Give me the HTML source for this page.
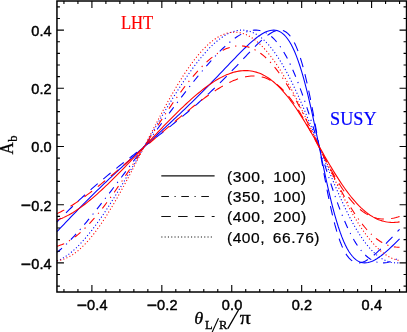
<!DOCTYPE html>
<html><head><meta charset="utf-8"><title>Ab plot</title>
<style>html,body{margin:0;padding:0;background:#fff;overflow:hidden}svg{display:block;will-change:transform;opacity:0.999}</style>
</head><body>
<svg width="407" height="332" viewBox="0 0 407 332">
<rect width="407" height="332" fill="#fff"/>
<path d="M56.95 231.59 L58.70 229.76 L60.45 227.93 L62.19 226.10 L63.94 224.27 L65.69 222.44 L67.44 220.61 L69.19 218.78 L70.93 216.96 L72.68 215.14 L74.43 213.33 L76.18 211.53 L77.93 209.73 L79.67 207.94 L81.42 206.16 L83.17 204.38 L84.92 202.62 L86.67 200.86 L88.41 199.11 L90.16 197.37 L91.91 195.63 L93.66 193.91 L95.41 192.19 L97.15 190.48 L98.90 188.78 L100.65 187.09 L102.40 185.40 L104.15 183.72 L105.89 182.05 L107.64 180.38 L109.39 178.73 L111.14 177.07 L112.89 175.43 L114.63 173.79 L116.38 172.15 L118.13 170.52 L119.88 168.90 L121.63 167.28 L123.37 165.67 L125.12 164.05 L126.87 162.45 L128.62 160.84 L130.37 159.24 L132.11 157.64 L133.86 156.05 L135.61 154.45 L137.36 152.86 L139.11 151.27 L140.85 149.68 L142.60 148.09 L144.35 146.50 L146.10 144.91 L147.85 143.32 L149.59 141.73 L151.34 140.14 L153.09 138.55 L154.84 136.95 L156.59 135.36 L158.33 133.76 L160.08 132.16 L161.83 130.55 L163.58 128.95 L165.33 127.33 L167.07 125.72 L168.82 124.10 L170.57 122.48 L172.32 120.85 L174.07 119.21 L175.81 117.57 L177.56 115.93 L179.31 114.27 L181.06 112.62 L182.81 110.95 L184.55 109.28 L186.30 107.60 L188.05 105.91 L189.80 104.22 L191.55 102.52 L193.29 100.81 L195.04 99.09 L196.79 97.37 L198.54 95.63 L200.29 93.89 L202.03 92.14 L203.78 90.38 L205.53 88.62 L207.28 86.84 L209.03 85.06 L210.77 83.27 L212.52 81.47 L214.27 79.67 L216.02 77.86 L217.77 76.04 L219.51 74.22 L221.26 72.39 L223.01 70.56 L224.76 68.73 L226.51 66.90 L228.25 65.07 L230.00 63.24 L231.75 61.41 L233.50 59.59 L235.25 57.78 L236.99 55.98 L238.74 54.19 L240.49 52.42 L242.24 50.67 L243.99 48.94 L245.73 47.24 L247.48 45.58 L249.23 43.96 L250.98 42.38 L252.73 40.85 L254.47 39.38 L256.22 37.99 L257.97 36.66 L259.72 35.43 L261.47 34.29 L263.21 33.26 L264.96 32.35 L266.71 31.57 L268.46 30.94 L270.21 30.48 L271.95 30.20 L273.70 30.11 L275.45 30.25 L277.20 30.61 L278.95 31.24 L280.69 32.14 L282.44 33.34 L284.19 34.86 L285.94 36.73 L287.69 38.95 L289.43 41.55 L291.18 44.56 L292.93 47.97 L294.68 51.82 L296.43 56.10 L298.17 60.83 L299.92 66.00 L301.67 71.61 L303.42 77.65 L305.17 84.10 L306.91 90.95 L308.66 98.15 L310.41 105.68 L312.16 113.49 L313.91 121.53 L315.65 129.75 L317.40 138.10 L319.15 146.50 L320.90 154.90 L322.65 163.25 L324.39 171.47 L326.14 179.51 L327.89 187.32 L329.64 194.85 L331.39 202.05 L333.13 208.90 L334.88 215.35 L336.63 221.39 L338.38 227.00 L340.13 232.17 L341.87 236.90 L343.62 241.18 L345.37 245.03 L347.12 248.44 L348.87 251.45 L350.61 254.05 L352.36 256.27 L354.11 258.14 L355.86 259.66 L357.61 260.86 L359.35 261.76 L361.10 262.39 L362.85 262.75 L364.60 262.89 L366.35 262.80 L368.09 262.52 L369.84 262.06 L371.59 261.43 L373.34 260.65 L375.09 259.74 L376.83 258.71 L378.58 257.57 L380.33 256.34 L382.08 255.01 L383.83 253.62 L385.57 252.15 L387.32 250.62 L389.07 249.04 L390.82 247.42 L392.57 245.76 L394.31 244.06 L396.06 242.33 L397.81 240.58 L399.56 238.81" fill="none" stroke="#0000ff" stroke-width="1.08"/>
<path d="M56.95 252.42 L58.70 251.01 L60.45 249.53 L62.19 247.99 L63.94 246.39 L65.69 244.74 L67.44 243.04 L69.19 241.29 L70.93 239.50 L72.68 237.67 L74.43 235.79 L76.18 233.88 L77.93 231.94 L79.67 229.96 L81.42 227.95 L83.17 225.92 L84.92 223.86 L86.67 221.78 L88.41 219.67 L90.16 217.54 L91.91 215.39 L93.66 213.23 L95.41 211.05 L97.15 208.85 L98.90 206.64 L100.65 204.41 L102.40 202.17 L104.15 199.92 L105.89 197.66 L107.64 195.39 L109.39 193.11 L111.14 190.83 L112.89 188.53 L114.63 186.23 L116.38 183.92 L118.13 181.61 L119.88 179.29 L121.63 176.97 L123.37 174.64 L125.12 172.31 L126.87 169.97 L128.62 167.63 L130.37 165.29 L132.11 162.95 L133.86 160.60 L135.61 158.25 L137.36 155.90 L139.11 153.55 L140.85 151.20 L142.60 148.85 L144.35 146.50 L146.10 144.15 L147.85 141.80 L149.59 139.45 L151.34 137.10 L153.09 134.75 L154.84 132.40 L156.59 130.05 L158.33 127.71 L160.08 125.37 L161.83 123.03 L163.58 120.69 L165.33 118.36 L167.07 116.03 L168.82 113.71 L170.57 111.39 L172.32 109.08 L174.07 106.77 L175.81 104.47 L177.56 102.17 L179.31 99.89 L181.06 97.61 L182.81 95.34 L184.55 93.08 L186.30 90.83 L188.05 88.59 L189.80 86.36 L191.55 84.15 L193.29 81.95 L195.04 79.77 L196.79 77.61 L198.54 75.46 L200.29 73.33 L202.03 71.22 L203.78 69.14 L205.53 67.08 L207.28 65.05 L209.03 63.04 L210.77 61.06 L212.52 59.12 L214.27 57.21 L216.02 55.33 L217.77 53.50 L219.51 51.71 L221.26 49.96 L223.01 48.26 L224.76 46.61 L226.51 45.01 L228.25 43.47 L230.00 41.99 L231.75 40.58 L233.50 39.23 L235.25 37.96 L236.99 36.76 L238.74 35.65 L240.49 34.62 L242.24 33.68 L243.99 32.84 L245.73 32.10 L247.48 31.47 L249.23 30.94 L250.98 30.54 L252.73 30.26 L254.47 30.11 L256.22 30.09 L257.97 30.22 L259.72 30.49 L261.47 30.92 L263.21 31.50 L264.96 32.25 L266.71 33.17 L268.46 34.26 L270.21 35.54 L271.95 37.00 L273.70 38.65 L275.45 40.50 L277.20 42.55 L278.95 44.80 L280.69 47.25 L282.44 49.91 L284.19 52.78 L285.94 55.86 L287.69 59.14 L289.43 62.63 L291.18 66.32 L292.93 70.21 L294.68 74.29 L296.43 78.56 L298.17 83.02 L299.92 87.64 L301.67 92.43 L303.42 97.38 L305.17 102.46 L306.91 107.67 L308.66 113.00 L310.41 118.42 L312.16 123.94 L313.91 129.52 L315.65 135.15 L317.40 140.82 L319.15 146.50 L320.90 152.18 L322.65 157.85 L324.39 163.48 L326.14 169.06 L327.89 174.58 L329.64 180.00 L331.39 185.33 L333.13 190.54 L334.88 195.62 L336.63 200.57 L338.38 205.36 L340.13 209.98 L341.87 214.44 L343.62 218.71 L345.37 222.79 L347.12 226.68 L348.87 230.37 L350.61 233.86 L352.36 237.14 L354.11 240.22 L355.86 243.09 L357.61 245.75 L359.35 248.20 L361.10 250.45 L362.85 252.50 L364.60 254.35 L366.35 256.00 L368.09 257.46 L369.84 258.74 L371.59 259.83 L373.34 260.75 L375.09 261.50 L376.83 262.08 L378.58 262.51 L380.33 262.78 L382.08 262.91 L383.83 262.89 L385.57 262.74 L387.32 262.46 L389.07 262.06 L390.82 261.53 L392.57 260.90 L394.31 260.16 L396.06 259.32 L397.81 258.38 L399.56 257.35" fill="none" stroke="#0000ff" stroke-width="1.08" stroke-dasharray="7.6 5.6 1.2 5.6" stroke-dashoffset="1.0"/>
<path d="M56.95 222.01 L58.70 220.22 L60.45 218.43 L62.19 216.66 L63.94 214.90 L65.69 213.15 L67.44 211.42 L69.19 209.70 L70.93 208.00 L72.68 206.32 L74.43 204.65 L76.18 202.99 L77.93 201.35 L79.67 199.72 L81.42 198.11 L83.17 196.51 L84.92 194.92 L86.67 193.35 L88.41 191.79 L90.16 190.25 L91.91 188.71 L93.66 187.19 L95.41 185.68 L97.15 184.18 L98.90 182.69 L100.65 181.22 L102.40 179.75 L104.15 178.29 L105.89 176.84 L107.64 175.40 L109.39 173.97 L111.14 172.55 L112.89 171.14 L114.63 169.73 L116.38 168.33 L118.13 166.93 L119.88 165.54 L121.63 164.16 L123.37 162.78 L125.12 161.41 L126.87 160.04 L128.62 158.67 L130.37 157.31 L132.11 155.95 L133.86 154.60 L135.61 153.24 L137.36 151.89 L139.11 150.54 L140.85 149.20 L142.60 147.85 L144.35 146.50 L146.10 145.15 L147.85 143.80 L149.59 142.46 L151.34 141.11 L153.09 139.76 L154.84 138.40 L156.59 137.05 L158.33 135.69 L160.08 134.33 L161.83 132.96 L163.58 131.59 L165.33 130.22 L167.07 128.84 L168.82 127.46 L170.57 126.07 L172.32 124.67 L174.07 123.27 L175.81 121.86 L177.56 120.45 L179.31 119.03 L181.06 117.60 L182.81 116.16 L184.55 114.71 L186.30 113.25 L188.05 111.78 L189.80 110.31 L191.55 108.82 L193.29 107.32 L195.04 105.81 L196.79 104.29 L198.54 102.75 L200.29 101.21 L202.03 99.65 L203.78 98.08 L205.53 96.49 L207.28 94.89 L209.03 93.28 L210.77 91.65 L212.52 90.01 L214.27 88.35 L216.02 86.68 L217.77 85.00 L219.51 83.30 L221.26 81.58 L223.01 79.85 L224.76 78.10 L226.51 76.34 L228.25 74.57 L230.00 72.78 L231.75 70.99 L233.50 69.17 L235.25 67.35 L236.99 65.52 L238.74 63.68 L240.49 61.84 L242.24 59.99 L243.99 58.14 L245.73 56.29 L247.48 54.44 L249.23 52.60 L250.98 50.78 L252.73 48.97 L254.47 47.18 L256.22 45.43 L257.97 43.71 L259.72 42.03 L261.47 40.41 L263.21 38.85 L264.96 37.37 L266.71 35.98 L268.46 34.69 L270.21 33.52 L271.95 32.48 L273.70 31.61 L275.45 30.91 L277.20 30.42 L278.95 30.16 L280.69 30.15 L282.44 30.43 L284.19 31.04 L285.94 31.99 L287.69 33.33 L289.43 35.10 L291.18 37.32 L292.93 40.04 L294.68 43.29 L296.43 47.09 L298.17 51.47 L299.92 56.46 L301.67 62.06 L303.42 68.27 L305.17 75.10 L306.91 82.51 L308.66 90.48 L310.41 98.96 L312.16 107.89 L313.91 117.19 L315.65 126.79 L317.40 136.60 L319.15 146.50 L320.90 156.40 L322.65 166.21 L324.39 175.81 L326.14 185.11 L327.89 194.04 L329.64 202.52 L331.39 210.49 L333.13 217.90 L334.88 224.73 L336.63 230.94 L338.38 236.54 L340.13 241.53 L341.87 245.91 L343.62 249.71 L345.37 252.96 L347.12 255.68 L348.87 257.90 L350.61 259.67 L352.36 261.01 L354.11 261.96 L355.86 262.57 L357.61 262.85 L359.35 262.84 L361.10 262.58 L362.85 262.09 L364.60 261.39 L366.35 260.52 L368.09 259.48 L369.84 258.31 L371.59 257.02 L373.34 255.63 L375.09 254.15 L376.83 252.59 L378.58 250.97 L380.33 249.29 L382.08 247.57 L383.83 245.82 L385.57 244.03 L387.32 242.22 L389.07 240.40 L390.82 238.56 L392.57 236.71 L394.31 234.86 L396.06 233.01 L397.81 231.16 L399.56 229.32" fill="none" stroke="#0000ff" stroke-width="1.08" stroke-dasharray="9.5 7.3" stroke-dashoffset="3.9"/>
<path d="M56.95 260.95 L58.70 260.24 L60.45 259.43 L62.19 258.52 L63.94 257.51 L65.69 256.41 L67.44 255.21 L69.19 253.92 L70.93 252.55 L72.68 251.09 L74.43 249.54 L76.18 247.92 L77.93 246.22 L79.67 244.45 L81.42 242.60 L83.17 240.68 L84.92 238.70 L86.67 236.65 L88.41 234.53 L90.16 232.36 L91.91 230.13 L93.66 227.84 L95.41 225.50 L97.15 223.11 L98.90 220.67 L100.65 218.19 L102.40 215.66 L104.15 213.08 L105.89 210.47 L107.64 207.82 L109.39 205.13 L111.14 202.40 L112.89 199.65 L114.63 196.86 L116.38 194.04 L118.13 191.20 L119.88 188.33 L121.63 185.44 L123.37 182.53 L125.12 179.59 L126.87 176.64 L128.62 173.67 L130.37 170.69 L132.11 167.70 L133.86 164.69 L135.61 161.67 L137.36 158.65 L139.11 155.62 L140.85 152.58 L142.60 149.54 L144.35 146.50 L146.10 143.46 L147.85 140.42 L149.59 137.38 L151.34 134.35 L153.09 131.33 L154.84 128.31 L156.59 125.30 L158.33 122.31 L160.08 119.33 L161.83 116.36 L163.58 113.41 L165.33 110.47 L167.07 107.56 L168.82 104.67 L170.57 101.80 L172.32 98.96 L174.07 96.14 L175.81 93.35 L177.56 90.60 L179.31 87.87 L181.06 85.18 L182.81 82.53 L184.55 79.92 L186.30 77.34 L188.05 74.81 L189.80 72.33 L191.55 69.89 L193.29 67.50 L195.04 65.16 L196.79 62.87 L198.54 60.64 L200.29 58.47 L202.03 56.35 L203.78 54.30 L205.53 52.32 L207.28 50.40 L209.03 48.55 L210.77 46.78 L212.52 45.08 L214.27 43.46 L216.02 41.91 L217.77 40.45 L219.51 39.08 L221.26 37.79 L223.01 36.59 L224.76 35.49 L226.51 34.48 L228.25 33.57 L230.00 32.76 L231.75 32.05 L233.50 31.45 L235.25 30.95 L236.99 30.57 L238.74 30.30 L240.49 30.14 L242.24 30.10 L243.99 30.18 L245.73 30.38 L247.48 30.70 L249.23 31.15 L250.98 31.73 L252.73 32.43 L254.47 33.26 L256.22 34.23 L257.97 35.32 L259.72 36.55 L261.47 37.91 L263.21 39.41 L264.96 41.03 L266.71 42.80 L268.46 44.69 L270.21 46.72 L271.95 48.88 L273.70 51.17 L275.45 53.60 L277.20 56.15 L278.95 58.82 L280.69 61.62 L282.44 64.55 L284.19 67.59 L285.94 70.75 L287.69 74.02 L289.43 77.40 L291.18 80.88 L292.93 84.46 L294.68 88.14 L296.43 91.91 L298.17 95.77 L299.92 99.70 L301.67 103.71 L303.42 107.79 L305.17 111.93 L306.91 116.13 L308.66 120.38 L310.41 124.66 L312.16 128.99 L313.91 133.34 L315.65 137.72 L317.40 142.10 L319.15 146.50 L320.90 150.90 L322.65 155.28 L324.39 159.66 L326.14 164.01 L327.89 168.34 L329.64 172.62 L331.39 176.87 L333.13 181.07 L334.88 185.21 L336.63 189.29 L338.38 193.30 L340.13 197.23 L341.87 201.09 L343.62 204.86 L345.37 208.54 L347.12 212.12 L348.87 215.60 L350.61 218.98 L352.36 222.25 L354.11 225.41 L355.86 228.45 L357.61 231.38 L359.35 234.18 L361.10 236.85 L362.85 239.40 L364.60 241.83 L366.35 244.12 L368.09 246.28 L369.84 248.31 L371.59 250.20 L373.34 251.97 L375.09 253.59 L376.83 255.09 L378.58 256.45 L380.33 257.68 L382.08 258.77 L383.83 259.74 L385.57 260.57 L387.32 261.27 L389.07 261.85 L390.82 262.30 L392.57 262.62 L394.31 262.82 L396.06 262.90 L397.81 262.86 L399.56 262.70" fill="none" stroke="#0000ff" stroke-width="1.08" stroke-dasharray="1.1 2.2"/>
<path d="M56.95 220.12 L58.70 219.52 L60.45 218.86 L62.19 218.14 L63.94 217.37 L65.69 216.53 L67.44 215.64 L69.19 214.70 L70.93 213.71 L72.68 212.68 L74.43 211.59 L76.18 210.46 L77.93 209.29 L79.67 208.08 L81.42 206.82 L83.17 205.53 L84.92 204.21 L86.67 202.84 L88.41 201.45 L90.16 200.02 L91.91 198.56 L93.66 197.08 L95.41 195.57 L97.15 194.03 L98.90 192.46 L100.65 190.87 L102.40 189.26 L104.15 187.63 L105.89 185.98 L107.64 184.31 L109.39 182.62 L111.14 180.91 L112.89 179.19 L114.63 177.45 L116.38 175.70 L118.13 173.94 L119.88 172.16 L121.63 170.37 L123.37 168.57 L125.12 166.77 L126.87 164.95 L128.62 163.13 L130.37 161.30 L132.11 159.46 L133.86 157.62 L135.61 155.77 L137.36 153.92 L139.11 152.07 L140.85 150.21 L142.60 148.36 L144.35 146.50 L146.10 144.64 L147.85 142.79 L149.59 140.93 L151.34 139.08 L153.09 137.23 L154.84 135.38 L156.59 133.54 L158.33 131.70 L160.08 129.87 L161.83 128.05 L163.58 126.23 L165.33 124.43 L167.07 122.63 L168.82 120.84 L170.57 119.06 L172.32 117.30 L174.07 115.55 L175.81 113.81 L177.56 112.09 L179.31 110.38 L181.06 108.69 L182.81 107.02 L184.55 105.37 L186.30 103.74 L188.05 102.13 L189.80 100.54 L191.55 98.97 L193.29 97.43 L195.04 95.92 L196.79 94.44 L198.54 92.98 L200.29 91.55 L202.03 90.16 L203.78 88.79 L205.53 87.47 L207.28 86.18 L209.03 84.92 L210.77 83.71 L212.52 82.54 L214.27 81.41 L216.02 80.32 L217.77 79.29 L219.51 78.30 L221.26 77.36 L223.01 76.47 L224.76 75.63 L226.51 74.86 L228.25 74.14 L230.00 73.48 L231.75 72.88 L233.50 72.34 L235.25 71.87 L236.99 71.47 L238.74 71.14 L240.49 70.89 L242.24 70.70 L243.99 70.59 L245.73 70.56 L247.48 70.61 L249.23 70.75 L250.98 70.96 L252.73 71.26 L254.47 71.65 L256.22 72.13 L257.97 72.69 L259.72 73.35 L261.47 74.10 L263.21 74.94 L264.96 75.88 L266.71 76.92 L268.46 78.05 L270.21 79.27 L271.95 80.60 L273.70 82.02 L275.45 83.53 L277.20 85.14 L278.95 86.85 L280.69 88.65 L282.44 90.54 L284.19 92.53 L285.94 94.60 L287.69 96.76 L289.43 99.01 L291.18 101.34 L292.93 103.74 L294.68 106.22 L296.43 108.78 L298.17 111.40 L299.92 114.09 L301.67 116.84 L303.42 119.64 L305.17 122.49 L306.91 125.39 L308.66 128.33 L310.41 131.31 L312.16 134.31 L313.91 137.34 L315.65 140.38 L317.40 143.44 L319.15 146.50 L320.90 149.56 L322.65 152.62 L324.39 155.66 L326.14 158.69 L327.89 161.69 L329.64 164.67 L331.39 167.61 L333.13 170.51 L334.88 173.36 L336.63 176.16 L338.38 178.91 L340.13 181.60 L341.87 184.22 L343.62 186.78 L345.37 189.26 L347.12 191.66 L348.87 193.99 L350.61 196.24 L352.36 198.40 L354.11 200.47 L355.86 202.46 L357.61 204.35 L359.35 206.15 L361.10 207.86 L362.85 209.47 L364.60 210.98 L366.35 212.40 L368.09 213.73 L369.84 214.95 L371.59 216.08 L373.34 217.12 L375.09 218.06 L376.83 218.90 L378.58 219.65 L380.33 220.31 L382.08 220.87 L383.83 221.35 L385.57 221.74 L387.32 222.04 L389.07 222.25 L390.82 222.39 L392.57 222.44 L394.31 222.41 L396.06 222.30 L397.81 222.11 L399.56 221.86" fill="none" stroke="#ff0000" stroke-width="1.08"/>
<path d="M56.95 246.17 L58.70 245.68 L60.45 245.09 L62.19 244.42 L63.94 243.65 L65.69 242.80 L67.44 241.86 L69.19 240.84 L70.93 239.74 L72.68 238.56 L74.43 237.30 L76.18 235.97 L77.93 234.57 L79.67 233.09 L81.42 231.54 L83.17 229.93 L84.92 228.25 L86.67 226.50 L88.41 224.70 L90.16 222.84 L91.91 220.92 L93.66 218.95 L95.41 216.92 L97.15 214.84 L98.90 212.72 L100.65 210.54 L102.40 208.33 L104.15 206.07 L105.89 203.76 L107.64 201.42 L109.39 199.05 L111.14 196.63 L112.89 194.19 L114.63 191.71 L116.38 189.20 L118.13 186.67 L119.88 184.10 L121.63 181.52 L123.37 178.91 L125.12 176.28 L126.87 173.63 L128.62 170.97 L130.37 168.29 L132.11 165.60 L133.86 162.89 L135.61 160.17 L137.36 157.45 L139.11 154.72 L140.85 151.98 L142.60 149.24 L144.35 146.50 L146.10 143.76 L147.85 141.02 L149.59 138.28 L151.34 135.55 L153.09 132.83 L154.84 130.11 L156.59 127.40 L158.33 124.71 L160.08 122.03 L161.83 119.37 L163.58 116.72 L165.33 114.09 L167.07 111.48 L168.82 108.90 L170.57 106.33 L172.32 103.80 L174.07 101.29 L175.81 98.81 L177.56 96.37 L179.31 93.95 L181.06 91.58 L182.81 89.24 L184.55 86.93 L186.30 84.67 L188.05 82.46 L189.80 80.28 L191.55 78.16 L193.29 76.08 L195.04 74.05 L196.79 72.08 L198.54 70.16 L200.29 68.30 L202.03 66.50 L203.78 64.75 L205.53 63.07 L207.28 61.46 L209.03 59.91 L210.77 58.43 L212.52 57.03 L214.27 55.70 L216.02 54.44 L217.77 53.26 L219.51 52.16 L221.26 51.14 L223.01 50.20 L224.76 49.35 L226.51 48.58 L228.25 47.91 L230.00 47.32 L231.75 46.83 L233.50 46.44 L235.25 46.13 L236.99 45.93 L238.74 45.83 L240.49 45.82 L242.24 45.92 L243.99 46.12 L245.73 46.43 L247.48 46.84 L249.23 47.36 L250.98 47.99 L252.73 48.72 L254.47 49.56 L256.22 50.51 L257.97 51.58 L259.72 52.75 L261.47 54.03 L263.21 55.42 L264.96 56.92 L266.71 58.52 L268.46 60.24 L270.21 62.06 L271.95 63.99 L273.70 66.02 L275.45 68.16 L277.20 70.40 L278.95 72.73 L280.69 75.16 L282.44 77.69 L284.19 80.31 L285.94 83.02 L287.69 85.82 L289.43 88.70 L291.18 91.66 L292.93 94.70 L294.68 97.81 L296.43 100.99 L298.17 104.23 L299.92 107.53 L301.67 110.89 L303.42 114.30 L305.17 117.76 L306.91 121.26 L308.66 124.80 L310.41 128.37 L312.16 131.96 L313.91 135.58 L315.65 139.21 L317.40 142.85 L319.15 146.50 L320.90 150.15 L322.65 153.79 L324.39 157.42 L326.14 161.04 L327.89 164.63 L329.64 168.20 L331.39 171.74 L333.13 175.24 L334.88 178.70 L336.63 182.11 L338.38 185.47 L340.13 188.77 L341.87 192.01 L343.62 195.19 L345.37 198.30 L347.12 201.34 L348.87 204.30 L350.61 207.18 L352.36 209.98 L354.11 212.69 L355.86 215.31 L357.61 217.84 L359.35 220.27 L361.10 222.60 L362.85 224.84 L364.60 226.98 L366.35 229.01 L368.09 230.94 L369.84 232.76 L371.59 234.48 L373.34 236.08 L375.09 237.58 L376.83 238.97 L378.58 240.25 L380.33 241.42 L382.08 242.49 L383.83 243.44 L385.57 244.28 L387.32 245.01 L389.07 245.64 L390.82 246.16 L392.57 246.57 L394.31 246.88 L396.06 247.08 L397.81 247.18 L399.56 247.17" fill="none" stroke="#ff0000" stroke-width="1.08" stroke-dasharray="7.6 5.6 1.2 5.6"/>
<path d="M56.95 213.66 L58.70 212.85 L60.45 211.99 L62.19 211.08 L63.94 210.14 L65.69 209.16 L67.44 208.15 L69.19 207.10 L70.93 206.03 L72.68 204.92 L74.43 203.78 L76.18 202.62 L77.93 201.44 L79.67 200.23 L81.42 199.00 L83.17 197.74 L84.92 196.47 L86.67 195.18 L88.41 193.88 L90.16 192.56 L91.91 191.22 L93.66 189.87 L95.41 188.50 L97.15 187.13 L98.90 185.74 L100.65 184.34 L102.40 182.94 L104.15 181.52 L105.89 180.09 L107.64 178.66 L109.39 177.22 L111.14 175.77 L112.89 174.32 L114.63 172.86 L116.38 171.39 L118.13 169.92 L119.88 168.45 L121.63 166.97 L123.37 165.49 L125.12 164.00 L126.87 162.51 L128.62 161.02 L130.37 159.53 L132.11 158.03 L133.86 156.53 L135.61 155.03 L137.36 153.53 L139.11 152.03 L140.85 150.53 L142.60 149.02 L144.35 147.52 L146.10 146.01 L147.85 144.51 L149.59 143.01 L151.34 141.51 L153.09 140.01 L154.84 138.51 L156.59 137.01 L158.33 135.51 L160.08 134.02 L161.83 132.53 L163.58 131.04 L165.33 129.55 L167.07 128.07 L168.82 126.59 L170.57 125.11 L172.32 123.64 L174.07 122.18 L175.81 120.72 L177.56 119.27 L179.31 117.82 L181.06 116.38 L182.81 114.94 L184.55 113.52 L186.30 112.10 L188.05 110.69 L189.80 109.30 L191.55 107.91 L193.29 106.53 L195.04 105.17 L196.79 103.82 L198.54 102.48 L200.29 101.16 L202.03 99.85 L203.78 98.56 L205.53 97.29 L207.28 96.04 L209.03 94.81 L210.77 93.60 L212.52 92.41 L214.27 91.25 L216.02 90.12 L217.77 89.01 L219.51 87.93 L221.26 86.89 L223.01 85.87 L224.76 84.89 L226.51 83.95 L228.25 83.05 L230.00 82.19 L231.75 81.37 L233.50 80.60 L235.25 79.88 L236.99 79.21 L238.74 78.60 L240.49 78.04 L242.24 77.54 L243.99 77.10 L245.73 76.73 L247.48 76.42 L249.23 76.19 L250.98 76.03 L252.73 75.96 L254.47 75.96 L256.22 76.04 L257.97 76.22 L259.72 76.48 L261.47 76.84 L263.21 77.30 L264.96 77.85 L266.71 78.51 L268.46 79.28 L270.21 80.15 L271.95 81.13 L273.70 82.23 L275.45 83.44 L277.20 84.76 L278.95 86.21 L280.69 87.77 L282.44 89.45 L284.19 91.25 L285.94 93.17 L287.69 95.20 L289.43 97.35 L291.18 99.62 L292.93 102.00 L294.68 104.48 L296.43 107.07 L298.17 109.76 L299.92 112.54 L301.67 115.42 L303.42 118.37 L305.17 121.41 L306.91 124.51 L308.66 127.68 L310.41 130.90 L312.16 134.17 L313.91 137.47 L315.65 140.81 L317.40 144.16 L319.15 147.52 L320.90 150.88 L322.65 154.23 L324.39 157.56 L326.14 160.87 L327.89 164.14 L329.64 167.36 L331.39 170.52 L333.13 173.63 L334.88 176.66 L336.63 179.62 L338.38 182.50 L340.13 185.28 L341.87 187.97 L343.62 190.56 L345.37 193.04 L347.12 195.42 L348.87 197.68 L350.61 199.83 L352.36 201.87 L354.11 203.79 L355.86 205.59 L357.61 207.27 L359.35 208.83 L361.10 210.27 L362.85 211.60 L364.60 212.81 L366.35 213.90 L368.09 214.89 L369.84 215.76 L371.59 216.52 L373.34 217.18 L375.09 217.74 L376.83 218.19 L378.58 218.55 L380.33 218.82 L382.08 218.99 L383.83 219.08 L385.57 219.08 L387.32 219.00 L389.07 218.85 L390.82 218.61 L392.57 218.31 L394.31 217.94 L396.06 217.50 L397.81 217.00 L399.56 216.44" fill="none" stroke="#ff0000" stroke-width="1.08" stroke-dasharray="9.5 7.3" stroke-dashoffset="1.3"/>
<path d="M56.95 260.69 L58.70 260.45 L60.45 260.11 L62.19 259.65 L63.94 259.08 L65.69 258.41 L67.44 257.62 L69.19 256.74 L70.93 255.74 L72.68 254.65 L74.43 253.45 L76.18 252.15 L77.93 250.75 L79.67 249.26 L81.42 247.67 L83.17 245.98 L84.92 244.21 L86.67 242.35 L88.41 240.40 L90.16 238.36 L91.91 236.24 L93.66 234.04 L95.41 231.77 L97.15 229.41 L98.90 226.98 L100.65 224.49 L102.40 221.92 L104.15 219.28 L105.89 216.59 L107.64 213.83 L109.39 211.01 L111.14 208.13 L112.89 205.21 L114.63 202.23 L116.38 199.20 L118.13 196.13 L119.88 193.01 L121.63 189.86 L123.37 186.67 L125.12 183.44 L126.87 180.18 L128.62 176.90 L130.37 173.59 L132.11 170.25 L133.86 166.90 L135.61 163.52 L137.36 160.14 L139.11 156.74 L140.85 153.33 L142.60 149.92 L144.35 146.50 L146.10 143.08 L147.85 139.67 L149.59 136.26 L151.34 132.86 L153.09 129.48 L154.84 126.10 L156.59 122.75 L158.33 119.41 L160.08 116.10 L161.83 112.82 L163.58 109.56 L165.33 106.33 L167.07 103.14 L168.82 99.99 L170.57 96.87 L172.32 93.80 L174.07 90.77 L175.81 87.79 L177.56 84.87 L179.31 81.99 L181.06 79.17 L182.81 76.41 L184.55 73.72 L186.30 71.08 L188.05 68.51 L189.80 66.02 L191.55 63.59 L193.29 61.23 L195.04 58.96 L196.79 56.76 L198.54 54.64 L200.29 52.60 L202.03 50.65 L203.78 48.79 L205.53 47.02 L207.28 45.33 L209.03 43.74 L210.77 42.25 L212.52 40.85 L214.27 39.55 L216.02 38.35 L217.77 37.26 L219.51 36.26 L221.26 35.38 L223.01 34.59 L224.76 33.92 L226.51 33.35 L228.25 32.89 L230.00 32.55 L231.75 32.31 L233.50 32.19 L235.25 32.18 L236.99 32.28 L238.74 32.50 L240.49 32.83 L242.24 33.27 L243.99 33.83 L245.73 34.51 L247.48 35.29 L249.23 36.20 L250.98 37.21 L252.73 38.34 L254.47 39.58 L256.22 40.93 L257.97 42.39 L259.72 43.97 L261.47 45.65 L263.21 47.43 L264.96 49.33 L266.71 51.32 L268.46 53.42 L270.21 55.62 L271.95 57.92 L273.70 60.31 L275.45 62.80 L277.20 65.38 L278.95 68.04 L280.69 70.80 L282.44 73.63 L284.19 76.55 L285.94 79.55 L287.69 82.62 L289.43 85.76 L291.18 88.97 L292.93 92.24 L294.68 95.58 L296.43 98.97 L298.17 102.41 L299.92 105.91 L301.67 109.45 L303.42 113.04 L305.17 116.66 L306.91 120.31 L308.66 124.00 L310.41 127.71 L312.16 131.44 L313.91 135.19 L315.65 138.95 L317.40 142.72 L319.15 146.50 L320.90 150.28 L322.65 154.05 L324.39 157.81 L326.14 161.56 L327.89 165.29 L329.64 169.00 L331.39 172.69 L333.13 176.34 L334.88 179.96 L336.63 183.55 L338.38 187.09 L340.13 190.59 L341.87 194.03 L343.62 197.42 L345.37 200.76 L347.12 204.03 L348.87 207.24 L350.61 210.38 L352.36 213.45 L354.11 216.45 L355.86 219.37 L357.61 222.20 L359.35 224.96 L361.10 227.62 L362.85 230.20 L364.60 232.69 L366.35 235.08 L368.09 237.38 L369.84 239.58 L371.59 241.68 L373.34 243.67 L375.09 245.57 L376.83 247.35 L378.58 249.03 L380.33 250.61 L382.08 252.07 L383.83 253.42 L385.57 254.66 L387.32 255.79 L389.07 256.80 L390.82 257.71 L392.57 258.49 L394.31 259.17 L396.06 259.73 L397.81 260.17 L399.56 260.50" fill="none" stroke="#ff0000" stroke-width="1.08" stroke-dasharray="1.1 2.2"/>
<rect x="56.95" y="1.00" width="349.60" height="291.00" fill="none" stroke="#000" stroke-width="1.5"/>
<path d="M63.94 292.00 v-3.00 M63.94 1.00 v3.00 M77.93 292.00 v-3.00 M77.93 1.00 v3.00 M91.91 292.00 v-7.00 M91.91 1.00 v7.00 M105.89 292.00 v-3.00 M105.89 1.00 v3.00 M119.88 292.00 v-3.00 M119.88 1.00 v3.00 M133.86 292.00 v-3.00 M133.86 1.00 v3.00 M147.85 292.00 v-3.00 M147.85 1.00 v3.00 M161.83 292.00 v-7.00 M161.83 1.00 v7.00 M175.81 292.00 v-3.00 M175.81 1.00 v3.00 M189.80 292.00 v-3.00 M189.80 1.00 v3.00 M203.78 292.00 v-3.00 M203.78 1.00 v3.00 M217.77 292.00 v-3.00 M217.77 1.00 v3.00 M231.75 292.00 v-7.00 M231.75 1.00 v7.00 M245.73 292.00 v-3.00 M245.73 1.00 v3.00 M259.72 292.00 v-3.00 M259.72 1.00 v3.00 M273.70 292.00 v-3.00 M273.70 1.00 v3.00 M287.69 292.00 v-3.00 M287.69 1.00 v3.00 M301.67 292.00 v-7.00 M301.67 1.00 v7.00 M315.65 292.00 v-3.00 M315.65 1.00 v3.00 M329.64 292.00 v-3.00 M329.64 1.00 v3.00 M343.62 292.00 v-3.00 M343.62 1.00 v3.00 M357.61 292.00 v-3.00 M357.61 1.00 v3.00 M371.59 292.00 v-7.00 M371.59 1.00 v7.00 M385.57 292.00 v-3.00 M385.57 1.00 v3.00 M399.56 292.00 v-3.00 M399.56 1.00 v3.00 M56.95 286.18 h3.00 M406.55 286.18 h-3.00 M56.95 274.54 h3.00 M406.55 274.54 h-3.00 M56.95 262.90 h7.00 M406.55 262.90 h-7.00 M56.95 251.26 h3.00 M406.55 251.26 h-3.00 M56.95 239.62 h3.00 M406.55 239.62 h-3.00 M56.95 227.98 h3.00 M406.55 227.98 h-3.00 M56.95 216.34 h3.00 M406.55 216.34 h-3.00 M56.95 204.70 h7.00 M406.55 204.70 h-7.00 M56.95 193.06 h3.00 M406.55 193.06 h-3.00 M56.95 181.42 h3.00 M406.55 181.42 h-3.00 M56.95 169.78 h3.00 M406.55 169.78 h-3.00 M56.95 158.14 h3.00 M406.55 158.14 h-3.00 M56.95 146.50 h7.00 M406.55 146.50 h-7.00 M56.95 134.86 h3.00 M406.55 134.86 h-3.00 M56.95 123.22 h3.00 M406.55 123.22 h-3.00 M56.95 111.58 h3.00 M406.55 111.58 h-3.00 M56.95 99.94 h3.00 M406.55 99.94 h-3.00 M56.95 88.30 h7.00 M406.55 88.30 h-7.00 M56.95 76.66 h3.00 M406.55 76.66 h-3.00 M56.95 65.02 h3.00 M406.55 65.02 h-3.00 M56.95 53.38 h3.00 M406.55 53.38 h-3.00 M56.95 41.74 h3.00 M406.55 41.74 h-3.00 M56.95 30.10 h7.00 M406.55 30.10 h-7.00 M56.95 18.46 h3.00 M406.55 18.46 h-3.00 M56.95 6.82 h3.00 M406.55 6.82 h-3.00" stroke="#000" stroke-width="1.12" fill="none"/>
<text x="51.8" y="35.90" text-anchor="end" style="font-family:'Liberation Sans',sans-serif;font-size:14.5px;fill:#000;stroke:#000;stroke-width:0.45px;letter-spacing:0.15px">0.4</text>
<text x="51.8" y="94.10" text-anchor="end" style="font-family:'Liberation Sans',sans-serif;font-size:14.5px;fill:#000;stroke:#000;stroke-width:0.45px;letter-spacing:0.15px">0.2</text>
<text x="51.8" y="152.30" text-anchor="end" style="font-family:'Liberation Sans',sans-serif;font-size:14.5px;fill:#000;stroke:#000;stroke-width:0.45px;letter-spacing:0.15px">0.0</text>
<text x="51.8" y="210.50" text-anchor="end" style="font-family:'Liberation Sans',sans-serif;font-size:14.5px;fill:#000;stroke:#000;stroke-width:0.45px;letter-spacing:0.15px"><tspan style="font-size:17.5px" dy="0.9">−</tspan><tspan dy="-0.9">0.2</tspan></text>
<text x="51.8" y="268.70" text-anchor="end" style="font-family:'Liberation Sans',sans-serif;font-size:14.5px;fill:#000;stroke:#000;stroke-width:0.45px;letter-spacing:0.15px"><tspan style="font-size:17.5px" dy="0.9">−</tspan><tspan dy="-0.9">0.4</tspan></text>
<text x="371.89" y="310.3" text-anchor="middle" style="font-family:'Liberation Sans',sans-serif;font-size:14.5px;fill:#000;stroke:#000;stroke-width:0.45px;letter-spacing:0.15px">0.4</text>
<text x="301.97" y="310.3" text-anchor="middle" style="font-family:'Liberation Sans',sans-serif;font-size:14.5px;fill:#000;stroke:#000;stroke-width:0.45px;letter-spacing:0.15px">0.2</text>
<text x="232.05" y="310.3" text-anchor="middle" style="font-family:'Liberation Sans',sans-serif;font-size:14.5px;fill:#000;stroke:#000;stroke-width:0.45px;letter-spacing:0.15px">0.0</text>
<text x="162.13" y="310.3" text-anchor="middle" style="font-family:'Liberation Sans',sans-serif;font-size:14.5px;fill:#000;stroke:#000;stroke-width:0.45px;letter-spacing:0.15px"><tspan style="font-size:17.5px" dy="0.9">−</tspan><tspan dy="-0.9">0.2</tspan></text>
<text x="92.21" y="310.3" text-anchor="middle" style="font-family:'Liberation Sans',sans-serif;font-size:14.5px;fill:#000;stroke:#000;stroke-width:0.45px;letter-spacing:0.15px"><tspan style="font-size:17.5px" dy="0.9">−</tspan><tspan dy="-0.9">0.4</tspan></text>
<path d="M161.3 175.90 H214.6" stroke="#111" stroke-width="1.1" fill="none"/>
<text x="227.0" y="181.70" textLength="79.6" lengthAdjust="spacingAndGlyphs" style="font-family:'Liberation Sans',sans-serif;font-size:15.3px;fill:#000;stroke:#000;stroke-width:0.22px;letter-spacing:0.5px;word-spacing:3px">(300, 100)</text>
<path d="M161.3 196.45 H213.0" stroke="#111" stroke-width="1.1" fill="none" stroke-dasharray="7.6 5.6 1.2 5.6"/>
<text x="227.0" y="202.25" textLength="79.6" lengthAdjust="spacingAndGlyphs" style="font-family:'Liberation Sans',sans-serif;font-size:15.3px;fill:#000;stroke:#000;stroke-width:0.22px;letter-spacing:0.5px;word-spacing:3px">(350, 100)</text>
<path d="M161.3 216.50 H214.6" stroke="#111" stroke-width="1.1" fill="none" stroke-dasharray="9.5 7.3"/>
<text x="227.0" y="222.30" textLength="79.8" lengthAdjust="spacingAndGlyphs" style="font-family:'Liberation Sans',sans-serif;font-size:15.3px;fill:#000;stroke:#000;stroke-width:0.22px;letter-spacing:0.5px;word-spacing:3px">(400, 200)</text>
<path d="M161.3 237.05 H212.3" stroke="#111" stroke-width="1.1" fill="none" stroke-dasharray="1.1 2.2"/>
<text x="227.0" y="242.85" textLength="93.0" lengthAdjust="spacingAndGlyphs" style="font-family:'Liberation Sans',sans-serif;font-size:15.3px;fill:#000;stroke:#000;stroke-width:0.22px;letter-spacing:0.5px;word-spacing:3px">(400, 66.76)</text>
<text x="120.9" y="28.8" textLength="32.3" lengthAdjust="spacingAndGlyphs" style="font-family:'Liberation Serif',serif;font-size:19.7px;fill:#ff0000;stroke:#ff0000;stroke-width:0.2px">LHT</text>
<text x="330.1" y="124.5" textLength="46.5" lengthAdjust="spacingAndGlyphs" style="font-family:'Liberation Serif',serif;font-size:19.7px;fill:#0000ff;stroke:#0000ff;stroke-width:0.2px">SUSY</text>
<g transform="translate(12.8,154.5) rotate(-90)"><text x="0" y="0" textLength="12.3" lengthAdjust="spacingAndGlyphs" style="font-family:'Liberation Serif',serif;font-size:19px;fill:#000;stroke:#000;stroke-width:0.3px">A</text><text x="12.8" y="4" style="font-family:'Liberation Serif',serif;font-size:12.5px;fill:#000;stroke:#000;stroke-width:0.3px">b</text></g>
<text x="194.3" y="324.3" textLength="9" lengthAdjust="spacingAndGlyphs" style="font-family:'Liberation Serif',serif;font-size:17px;font-style:italic;fill:#000;stroke:#000;stroke-width:0.3px">θ</text>
<text x="205.0" y="328.6" style="font-family:'Liberation Serif',serif;font-size:12.5px;fill:#000;stroke:#000;stroke-width:0.35px">L</text>
<path d="M212.0 332.5 L218.5 318.3" stroke="#000" stroke-width="1.1" fill="none"/>
<text x="219.0" y="328.6" style="font-family:'Liberation Serif',serif;font-size:12.5px;fill:#000;stroke:#000;stroke-width:0.35px">R</text>
<path d="M227.8 328.6 L238.5 310" stroke="#000" stroke-width="1.3" fill="none"/>
<text x="239.8" y="324.3" textLength="11" lengthAdjust="spacingAndGlyphs" style="font-family:'Liberation Serif',serif;font-size:18px;fill:#000;stroke:#000;stroke-width:0.3px">π</text>
</svg>
</body></html>
